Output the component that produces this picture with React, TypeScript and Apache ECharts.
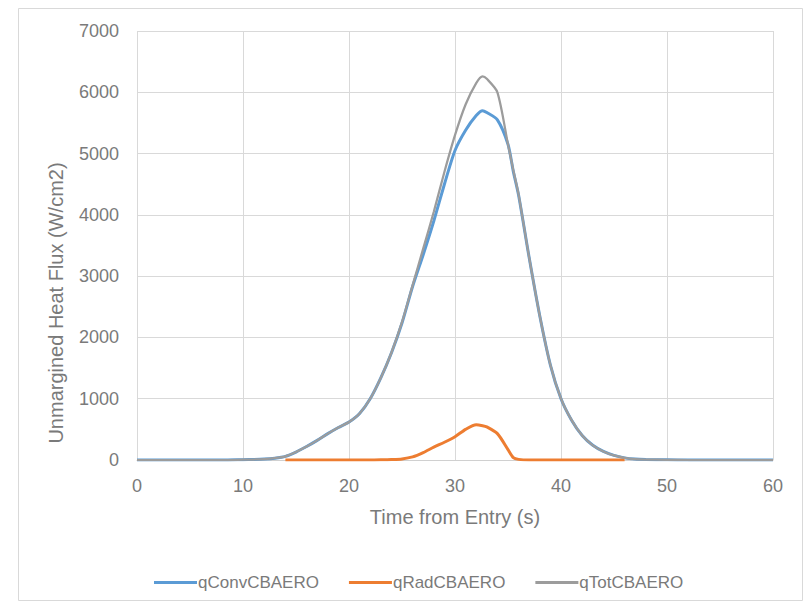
import React, { useEffect, useRef } from "react";
import * as echarts from "echarts";

const time = [0, 2, 4, 6, 8, 10, 11, 12, 13, 14, 15, 16, 17, 18, 19, 20, 21, 22, 23, 24, 25, 26, 27, 28, 29, 30, 31, 32, 32.6, 33, 34, 35, 35.5, 36, 37, 38, 39, 40, 41, 42, 43, 44, 45, 46, 47, 48, 50, 52, 55, 60];

const qTot = [0, 0, 0, 0, 0, 5, 8, 15, 30, 60, 130, 220, 320, 430, 530, 620, 760, 1000, 1340, 1750, 2250, 2850, 3450, 4050, 4700, 5300, 5800, 6150, 6260, 6220, 6000, 5150, 4730, 4330, 3300, 2350, 1550, 1000, 650, 400, 240, 140, 75, 35, 15, 8, 3, 0, 0, 0];

const qConv = [0, 0, 0, 0, 0, 5, 8, 15, 30, 60, 130, 220, 320, 430, 530, 620, 760, 1000, 1340, 1745, 2235, 2830, 3350, 3900, 4500, 5050, 5380, 5620, 5700, 5670, 5550, 5150, 4710, 4320, 3300, 2350, 1550, 1000, 650, 400, 240, 140, 75, 35, 15, 8, 3, 0, 0, 0];

const qRad = [null, null, null, null, null, null, null, null, null, 0, 0, 0, 0, 0, 0, 0, 0, 0, 3, 8, 18, 50, 120, 210, 290, 380, 500, 575, 560, 540, 430, 170, 40, 10, 0, 0, 0, 0, 0, 0, 0, 0, 0, 0, null, null, null, null, null, null];

const seriesNames = ["qConvCBAERO", "qRadCBAERO", "qTotCBAERO"];
const seriesColors = ["#5b9bd5", "#ed7d31", "#9c9c9c"];
const xTicks = [0, 10, 20, 30, 40, 50, 60];
const xTitle = "Time from Entry (s)";
const yTitle = "Unmargined Heat Flux (W/cm2)";

const pairs = (vals: (number | null)[]) => time.map((t, i) => [t, vals[i]]);

export default function App() {
  const ref = useRef<HTMLDivElement>(null);
  useEffect(() => {
    if (!ref.current) return;
    const chart = echarts.init(ref.current, null, { renderer: "svg" });
    const font = "'Liberation Sans', Arial, sans-serif";
    const textColor = "#7a7a7a";
    chart.setOption({
      animation: false,
      backgroundColor: "#ffffff",
      graphic: [
        {
          type: "rect",
          shape: { x: 18.5, y: 8.5, width: 784, height: 592 },
          style: { fill: "none", stroke: "#d9d9d9", lineWidth: 1 },
          silent: true,
        },
        {
          type: "text",
          x: 56,
          y: 303,
          rotation: Math.PI / 2,
          style: {
            text: yTitle,
            fill: textColor,
            fontSize: 20,
            fontFamily: font,
            align: "center",
            verticalAlign: "middle",
          },
          silent: true,
        },
      ],
      grid: { left: 137, right: 38, top: 31, bottom: 142, containLabel: false },
      xAxis: {
        type: "value",
        min: xTicks[0],
        max: xTicks[xTicks.length - 1],
        interval: 10,
        name: xTitle,
        nameLocation: "middle",
        nameGap: 47,
        nameTextStyle: { color: textColor, fontSize: 20, fontFamily: font },
        axisLine: { show: true, lineStyle: { color: "#d0d0d0", width: 1 } },
        axisTick: { show: false },
        axisLabel: { color: textColor, fontSize: 18, fontFamily: font, margin: 17 },
        splitLine: { show: true, lineStyle: { color: "#d9d9d9", width: 1 } },
      },
      yAxis: {
        type: "value",
        min: 0,
        max: 7000,
        interval: 1000,
        axisLine: { show: false },
        axisTick: { show: false },
        axisLabel: {
          color: textColor,
          fontSize: 18,
          fontFamily: font,
          margin: 18,
          formatter: (v: number) => String(v),
        },
        splitLine: { show: true, lineStyle: { color: "#d9d9d9", width: 1 } },
      },
      legend: {
        top: 569,
        left: 149,
        icon: "rect",
        itemWidth: 43,
        itemHeight: 3,
        itemGap: 30,
        textStyle: { color: textColor, fontSize: 17, fontFamily: font, padding: [0, 0, 0, -4] },
        data: seriesNames.map((n, i) => ({ name: n, itemStyle: { color: seriesColors[i] } })),
      },
      series: [
        {
          name: seriesNames[0],
          type: "line",
          data: pairs(qConv),
          symbol: "none",
          smooth: 0.25,
          lineStyle: { color: seriesColors[0], width: 3 },
          itemStyle: { color: seriesColors[0] },
        },
        {
          name: seriesNames[1],
          type: "line",
          data: pairs(qRad),
          symbol: "none",
          smooth: 0.25,
          lineStyle: { color: seriesColors[1], width: 3 },
          itemStyle: { color: seriesColors[1] },
        },
        {
          name: seriesNames[2],
          type: "line",
          data: pairs(qTot),
          symbol: "none",
          smooth: 0.25,
          lineStyle: { color: seriesColors[2], width: 2.25 },
          itemStyle: { color: seriesColors[2] },
        },
      ],
    });
    return () => chart.dispose();
  }, []);
  return (
    <div
      ref={ref}
      style={{ position: "fixed", left: 0, top: 0, width: 811, height: 602 }}
    />
  );
}
